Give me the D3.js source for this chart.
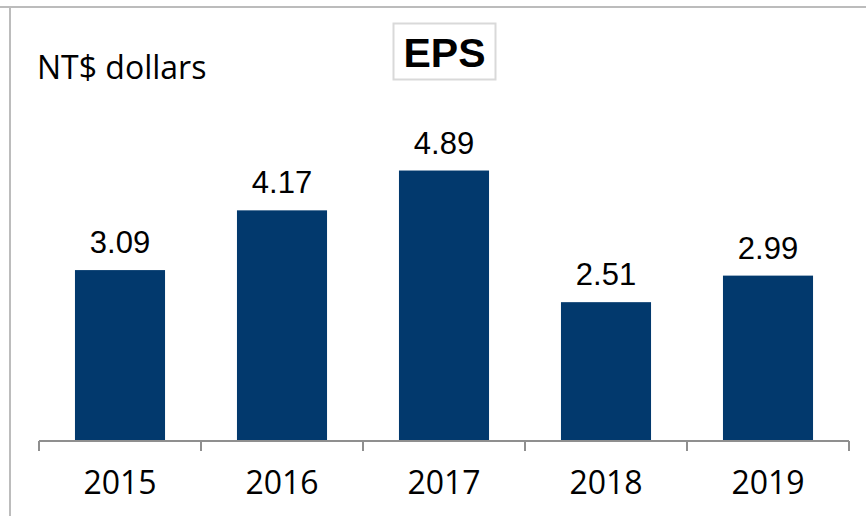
<!DOCTYPE html>
<html>
<head>
<meta charset="utf-8">
<script src="https://cdn.jsdelivr.net/npm/d3@7"></script>
<style>
  body { margin: 0; background: #fff; }
  svg { display: block; }
</style>
</head>
<body>
<svg width="866" height="516"></svg>
<script>
var years = ["2015", "2016", "2017", "2018", "2019"];
var eps = [3.09, 4.17, 4.89, 2.51, 2.99];
var epsLabels = ["3.09", "4.17", "4.89", "2.51", "2.99"];

var svg = d3.select("svg");
var baseY = 441;

// frame lines top and left
svg.append("line")
    .attr("x1", 0).attr("x2", 866).attr("y1", 7).attr("y2", 7)
    .attr("stroke", "#bcbcbc").attr("stroke-width", 2);
svg.append("line")
    .attr("x1", 10).attr("x2", 10).attr("y1", 7).attr("y2", 516)
    .attr("stroke", "#bcbcbc").attr("stroke-width", 2);

var scX = d3.scaleBand()
    .domain(years)
    .range([39, 849])
    .paddingInner(0.444)
    .paddingOuter(0.222);

var scY = d3.scaleLinear()
    .domain([0, 8])
    .range([baseY, -1.5]);

svg.selectAll("rect.bar")
    .data(eps)
    .enter()
    .append("rect")
    .attr("class", "bar")
    .attr("fill", "#02396d")
    .attr("x", (d, i) => scX(years[i]))
    .attr("width", scX.bandwidth())
    .attr("y", d => scY(d))
    .attr("height", d => baseY - scY(d));

svg.selectAll("text.val")
    .data(eps)
    .enter()
    .append("text")
    .attr("class", "val")
    .attr("x", (d, i) => scX(years[i]) + scX.bandwidth() / 2)
    .attr("y", d => scY(d) - 17)
    .attr("text-anchor", "middle")
    .attr("font-family", "Liberation Sans, Arial, sans-serif")
    .attr("font-size", 31)
    .attr("fill", "#000")
    .text((d, i) => epsLabels[i]);

// x axis: baseline plus boundary ticks
var bounds = d3.range(years.length + 1).map(i => 39 + i * scX.step());
svg.append("line")
    .attr("x1", 39).attr("x2", 849).attr("y1", baseY).attr("y2", baseY)
    .attr("stroke", "#8f8f8f").attr("stroke-width", 2);
svg.selectAll("line.tick")
    .data(bounds)
    .enter()
    .append("line")
    .attr("class", "tick")
    .attr("x1", d => d).attr("x2", d => d)
    .attr("y1", baseY).attr("y2", baseY + 10)
    .attr("stroke", "#8f8f8f").attr("stroke-width", 2);

svg.selectAll("text.year")
    .data(years)
    .enter()
    .append("text")
    .attr("class", "year")
    .attr("x", d => scX(d) + scX.bandwidth() / 2)
    .attr("y", 494)
    .attr("text-anchor", "middle")
    .attr("font-family", "Open Sans, Noto Sans, sans-serif")
    .attr("font-size", 32)
    .attr("fill", "#000")
    .text(d => d);

svg.append("text")
    .attr("x", 37).attr("y", 79)
    .attr("font-family", "Open Sans, Noto Sans, sans-serif")
    .attr("font-size", 32)
    .attr("fill", "#000")
    .text("NT$ dollars");

// title box
svg.append("rect")
    .attr("x", 393.5).attr("y", 23.5).attr("width", 102).attr("height", 56)
    .attr("fill", "#fff").attr("stroke", "#d9d9d9").attr("stroke-width", 2);
svg.append("text")
    .attr("x", 444.5).attr("y", 67)
    .attr("text-anchor", "middle")
    .attr("font-family", "Liberation Sans, Arial, sans-serif")
    .attr("font-weight", "bold")
    .attr("font-size", 41)
    .attr("fill", "#000")
    .text("EPS");
</script>
</body>
</html>
